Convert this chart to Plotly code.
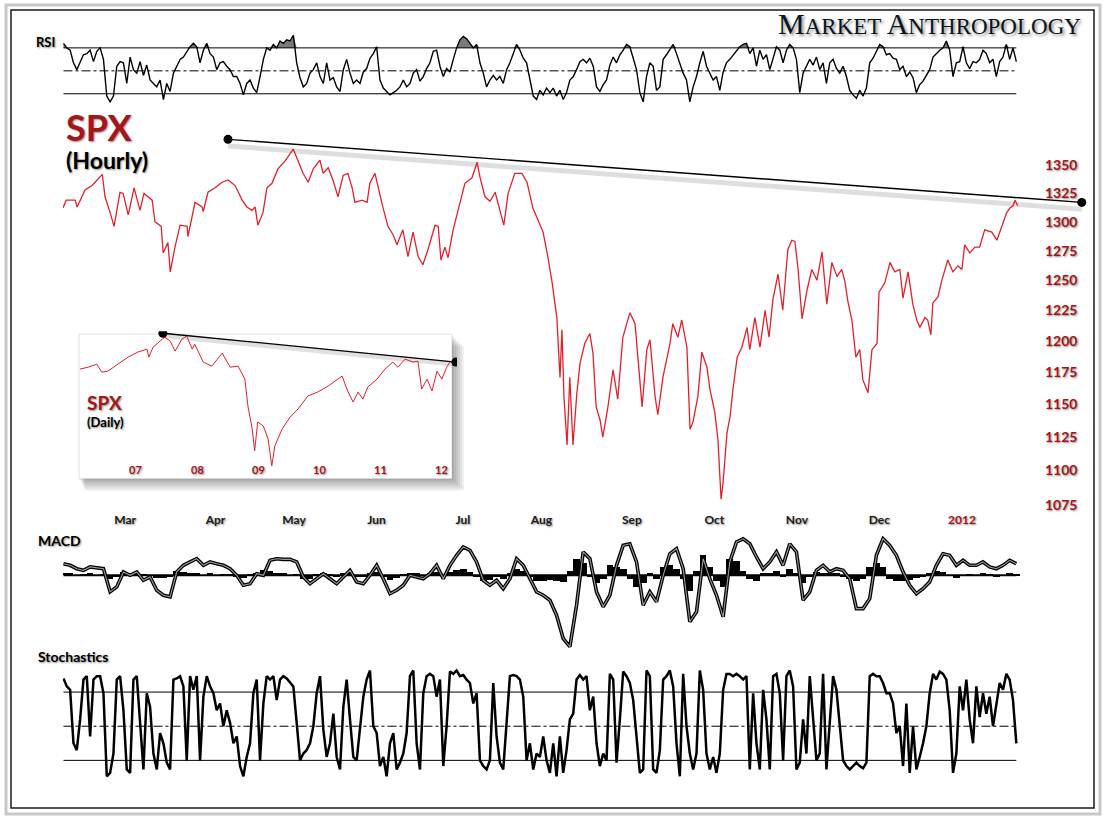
import plotly.graph_objects as go

W, H = 1108, 822

# ---- SPX hourly (x = trading days since 1 Feb 2011) ----
spx_t = [3.2, 4.0, 6.3, 6.8, 8.8, 10.6, 13.2, 13.9, 15.2, 16.2, 17.7, 18.5, 19.8, 21.3, 22.8, 23.8, 25.9, 26.6,
         28.2, 28.7, 29.9, 30.5, 31.7, 33.0, 34.8, 35.0, 36.8, 38.6, 38.9, 40.1, 41.9, 43.7, 45.2, 47.0, 48.8, 50.0,
         51.3, 52.1, 52.8, 54.1, 55.1, 56.4, 57.9, 59.7, 61.8, 63.0, 64.3, 65.6, 66.9, 68.6, 69.4, 70.7, 71.9, 73.2,
         74.5, 75.7, 76.8, 77.5, 79.3, 80.6, 81.3, 82.6, 83.4, 84.6, 85.9, 87.2, 88.2, 89.7, 91.0, 92.3, 93.6, 94.8,
         96.1, 97.9, 98.7, 99.4, 100.4, 101.2, 102.5, 104.3, 105.5, 107.3, 108.6, 109.3, 110.6, 111.9, 113.2, 114.4,
         115.4, 116.5, 118.2, 120.0, 121.3, 122.8, 124.1, 125.4, 126.6, 127.7, 128.9, 129.7, 130.2, 130.7, 131.5,
         132.2, 133.0, 134.0, 134.8, 136.0, 137.3, 138.1, 138.9, 139.9, 140.6, 141.9, 143.2, 144.4, 145.7, 147.5,
         148.8, 150.0, 150.6, 151.8, 152.6, 153.9, 154.6, 155.9, 157.7, 158.4, 159.7, 160.7, 162.0, 162.8, 163.5,
         164.8, 165.8, 167.1, 167.9, 169.1, 169.9, 170.7, 171.2, 172.2, 173.0, 173.7, 174.8, 176.0, 177.3, 178.0,
         179.3, 180.6, 181.9, 182.9, 183.9, 185.2, 186.4, 187.7, 188.7, 189.5, 190.3, 191.3, 192.6, 193.8, 195.1,
         196.4, 197.6, 198.9, 200.2, 201.4, 202.2, 203.0, 204.0, 205.0, 206.0, 206.8, 208.1, 209.1, 210.4, 210.9,
         212.4, 213.7, 214.9, 216.2, 217.0, 218.3, 219.5, 220.5, 221.3, 222.6, 223.3, 224.1, 224.6, 225.9, 226.9,
         228.4, 229.7, 231.0, 232.0, 232.7, 234.0, 235.3, 236.5, 237.8, 239.6, 240.9, 242.2, 243.4, 244.2, 245.0,
         245.5, 246.2]
spx = [1312, 1319, 1319, 1313, 1328, 1332, 1342, 1322, 1308, 1296, 1326, 1325, 1306, 1330, 1310, 1325, 1319, 1300,
       1296, 1273, 1282, 1257, 1278, 1297, 1296, 1287, 1317, 1313, 1309, 1326, 1330, 1335, 1337, 1332, 1319, 1313,
       1310, 1313, 1297, 1308, 1330, 1334, 1347, 1354, 1365, 1355, 1343, 1335, 1347, 1355, 1343, 1348, 1337, 1322,
       1341, 1343, 1330, 1317, 1319, 1317, 1334, 1343, 1330, 1313, 1296, 1289, 1280, 1293, 1270, 1291, 1270, 1263,
       1276, 1297, 1296, 1267, 1278, 1269, 1293, 1319, 1334, 1339, 1353, 1340, 1322, 1318, 1326, 1310,
       1297, 1325, 1343, 1343, 1335, 1312, 1302, 1291, 1270, 1248, 1219, 1171, 1209, 1156, 1119,
       1171, 1119, 1159, 1182, 1198, 1206, 1190, 1148, 1138, 1125, 1148, 1177, 1154, 1203, 1223,
       1214, 1171, 1148, 1193, 1201, 1156, 1142, 1171, 1198, 1214, 1203, 1217, 1195, 1131, 1136,
       1156, 1191, 1179, 1161, 1144, 1123, 1079, 1091, 1128, 1141, 1161, 1187, 1195, 1211, 1193,
       1219, 1195, 1225, 1203, 1234, 1255, 1225, 1276, 1284, 1283, 1259, 1218, 1242, 1259, 1250,
       1274, 1230, 1265, 1253, 1259, 1249, 1232, 1217, 1187, 1193, 1169, 1159, 1193, 1198, 1240,
       1248, 1265, 1257, 1259, 1235, 1257, 1230, 1217, 1211, 1219, 1217, 1205, 1231, 1236, 1250,
       1267, 1257, 1262, 1259, 1280, 1273, 1278, 1278, 1293, 1291, 1284, 1296, 1308, 1312, 1314,
       1319, 1314]
assert len(spx_t) == len(spx)

month_ticks = [19, 42, 62, 83, 105, 125, 148, 169, 190, 211, 232]
month_text = ['Mar', 'Apr', 'May', 'Jun', 'Jul', 'Aug', 'Sep', 'Oct', 'Nov', 'Dec',
              "<span style='color:#a3161a'>2012</span>"]
price_ticks = [1075, 1100, 1125, 1150, 1175, 1200, 1225, 1250, 1275, 1300, 1325, 1350]

trend_t = [45.2, 262.5]
trend_px = [1374, 1317]

# ---- SPX daily inset ----
daily_year = [2006.08, 2006.22, 2006.36, 2006.44, 2006.54, 2006.71, 2006.87, 2007.03, 2007.18, 2007.21, 2007.28,
              2007.43, 2007.47, 2007.56, 2007.64, 2007.75, 2007.83, 2007.92, 2007.96, 2008.10, 2008.24, 2008.41,
              2008.54, 2008.67, 2008.78, 2008.83, 2008.90, 2008.94, 2008.99, 2009.08, 2009.16, 2009.22, 2009.27,
              2009.39, 2009.52, 2009.65, 2009.81, 2009.97, 2010.14, 2010.37, 2010.46, 2010.55, 2010.63, 2010.71,
              2010.79, 2010.94, 2011.07, 2011.20, 2011.28, 2011.40, 2011.53, 2011.61, 2011.67, 2011.76, 2011.84,
              2011.92, 2012.00, 2012.08, 2012.13]
daily_spx = [1258, 1274, 1300, 1233, 1241, 1300, 1362, 1408, 1436, 1362, 1455,
             1535, 1555, 1514, 1417, 1535, 1565, 1436, 1484, 1318, 1283, 1398,
             1274, 1283, 1177, 985, 846, 731, 886, 863, 792, 662, 756,
             846, 915, 966, 1052, 1080, 1124, 1201, 1088, 1011, 1080, 1031,
             1117, 1177, 1258, 1318, 1274, 1344, 1318, 1326, 1102, 1177, 1088,
             1241, 1177, 1274, 1318]
assert len(daily_year) == len(daily_spx)
daily_trend_year = [2007.44, 2012.23]
daily_trend_px = [1596, 1318]
year_ticks = [2007, 2008, 2009, 2010, 2011, 2012]
year_text = ['07', '08', '09', '10', '11', '12']

# ---- oscillators, sampled on a regular grid of trading days ----
osc_t0 = 3.32
fine_step = 0.848
macd_step = 1.696

rsi = [74, 70, 68, 57, 51, 58, 64, 65, 68, 58, 67, 70, 60, 28, 23, 28, 54, 58, 57, 39,
       62, 51, 48, 58, 46, 55, 42, 39, 36, 42, 25, 39, 32, 48, 54, 60, 62, 67, 71, 74,
       71, 57, 68, 74, 65, 62, 51, 57, 58, 54, 51, 45, 45, 39, 29, 39, 42, 35, 31, 45,
       60, 70, 68, 73, 70, 76, 74, 77, 76, 81, 57, 44, 36, 39, 48, 51, 57, 45, 39, 57,
       42, 44, 36, 32, 51, 60, 48, 39, 42, 39, 49, 52, 61, 65, 71, 42, 35, 32, 29, 31,
       33, 36, 42, 36, 39, 48, 51, 41, 45, 52, 57, 67, 68, 54, 45, 52, 49, 60, 70, 77,
       80, 78, 74, 70, 73, 57, 48, 36, 42, 46, 42, 45, 39, 51, 57, 65, 73, 68, 61, 57,
       42, 28, 25, 33, 29,
       35, 31, 35, 28, 33, 25, 31, 42,
       45, 51, 58, 60, 57, 61, 54, 36, 32, 38, 42, 55, 62, 57, 64, 68, 73, 71, 62, 51,
       31, 23, 45, 57, 54, 33, 36, 60, 64, 68, 73, 65, 57, 48, 42, 23, 36, 45, 57, 67,
       54, 48, 42, 45, 33, 49, 57, 60, 64, 68, 71, 73, 74, 65, 70, 54, 68, 60, 64, 51,
       61, 71, 68, 57, 68, 73, 70, 60, 31, 48, 54, 60, 55, 62, 51, 57, 39, 57, 60, 52,
       48, 54, 45, 33, 29, 26, 33, 28, 35, 57, 61, 67, 73, 71, 64, 65, 61, 60, 51, 54,
       45, 49, 44, 31, 38, 41, 46, 51, 62, 65, 68, 70, 76, 68, 45, 57, 58, 71, 57, 52,
       58, 57, 60, 68, 65, 57, 60, 45, 58, 62, 73, 60, 70, 58]

stoch = [92, 85, 82, 35, 29, 56, 91, 94, 41, 91, 94, 94, 79, 6, 9, 26, 91, 94, 64, 12,
         9, 91, 94, 50, 12, 79, 67, 26, 12, 44, 35, 18, 12, 91, 92, 94, 85, 20, 94, 82,
         94, 20, 76, 94, 85, 79, 64, 70, 50, 64, 53, 35, 41, 15, 6, 23, 35, 79, 91, 20,
         70, 94, 91, 94, 73, 91, 94, 92, 88, 85, 53, 20, 26, 29, 35, 50, 79, 94, 47, 23,
         35, 61, 23, 12, 67, 91, 56, 23, 20, 50, 76, 91, 99, 50, 44, 15, 23, 6, 35, 44,
         12, 18, 26, 44, 94, 99, 35, 12, 79, 94, 96, 94, 76, 91, 15, 50, 98, 96, 99, 94,
         95, 91, 88, 70, 79, 20, 15, 12, 20, 88, 41, 18, 12, 53, 94, 95, 94, 91, 76, 20,
         35, 12, 26,
         23, 41, 20, 9, 35, 6, 41,
         9, 29, 56, 61, 91, 95, 91, 94, 64, 76, 35, 15, 26, 20, 96, 91, 18, 56, 98, 94,
         88, 73, 41, 9, 12, 99, 94, 12, 9, 29, 91, 94, 99, 85, 35, 6, 96, 50, 26, 12,
         26, 99, 82, 26, 12, 23, 9, 26, 82, 96, 96, 94, 96, 94, 91, 94, 12, 79, 35, 12,
         82, 56, 12, 94, 96, 79, 20, 94, 99, 85, 12, 18, 56, 26, 94, 53, 20, 26, 96, 12,
         50, 94, 82, 50, 20, 15, 12, 15, 18, 15, 13, 18, 94, 96, 94, 94, 88, 79, 79, 70,
         44, 50, 15, 70, 9, 50, 12, 23, 35, 50, 79, 96, 91, 98, 96, 91, 64, 9, 26, 85,
         64, 91, 56, 35, 85, 58, 79, 61, 76, 50, 70, 88, 82, 96, 91, 73, 35]

macd = [5.8, 5.0, 3.3, 2.5, 4.2, 3.7, 3.3, -8.3, -5.8, 1.7, 0.0, 1.7, -2.5, -0.8, -7.5, -10.0, -10.8, 1.7,
        5.0, 6.7, 8.3, 5.0, 6.7, 5.8, 5.0, 3.3, 0.0, -5.0, -4.2, 0.8, 0.0, 7.5, 8.3, 8.0, 8.0, 6.7, -0.8,
        -4.2, -1.7, 0.8, -1.7, -4.2, -0.8, 2.5, -3.3, -4.2, 0.0, 5.0, -1.7, -9.2, -7.5, -5.0, 0.0, -0.8,
        -1.7, 0.8, 5.0, -1.7, 5.0, 10.0, 14.2, 12.5, 6.7, -2.5, -5.0, -2.5, -6.7, -1.7, 8.3, 5.0, -1.7, -8.3,
        -10.0, -12.5, -20.0, -31.7, -35.8, -15.0, 11.7, 8.3, -8.3, -15.8, -10.0, 5.0, 15.0, 15.8, 6.7, -15.0,
        -8.3, -13.3, 0.0, 10.8, 13.3, 3.3, -23.3, -18.3, 8.3, -1.7, -10.0, -20.8, 6.7, 16.7, 18.3, 15.8, 9.2,
        3.3, 6.7, 11.7, 5.0, 15.8, 11.7, -12.5, -8.3, 2.5, 5.0, 1.7, 3.3, 2.5, -1.7, -16.7, -16.7, -11.7,
        10.0, 18.3, 15.0, 10.0, 1.7, -5.0, -9.2, -6.7, -3.3, 5.0, 10.8, 10.0, 5.0, 7.5, 5.0, 5.0, 6.7, 4.2,
        3.3, 5.0, 7.5, 5.8]
macd_hist = [1, 0.5, 0, -0.5, 0.5, 0, -0.5, -2, -1, 1.5, 0.5, 1, -0.5, 0, -1.5, -1.5, -1, 2, 1.5, 1,
             1, 0, 0.5, 0, -0.5, -0.5, -1, -1.5, -0.5, 0.5, 2.5, 2, 1, 0.5, 0, -0.5, -2, -2, -0.5, 0.5,
             -0.5, -1, 0.5, 1, -1, -1, 0.5, 1.5, -1, -2.5, -1.5, -0.5, 1, 0.5, 0, 1, 1.5, 0, 1.5, 2.5,
             3, 1.5, -1, -3, -2.5, -1, -2, 0.5, 3, 2, -1, -3,
             -3, -2.5, -3, -3.5, 2, 8, 6, -1, -4, -2, 5, 4, 3, -2, -6, -4, 1, -2, 4, 5,
             3, -2, -8, 2, 10, 4, -3, -6, 8, 7, 2, -2, -3, 0.5, 1, 2, -1, 3, 1, -4,
             -1, 1.5, 1, 0.5, 0.5, -1, -2, -3, -2, 4, 6, 4, -2, -3, -3, -2.5, -1.5, -1, 0.5, 2,
             1.5, 0, -1.5, 0, -0.5, 0, 0.5, -0.5, -1, 0, 0.5, -0.5]
assert len(rsi) == len(stoch) and len(macd) == len(macd_hist)

rsi_t = [osc_t0 + i * fine_step for i in range(len(rsi))]
macd_t = [osc_t0 + i * macd_step for i in range(len(macd))]
span = [rsi_t[0], rsi_t[-1]]


def px(x):
    return x / W


def py(y):
    return 1 - y / H


RED = '#e3202c'
DARK_RED = '#a3161a'
SHADOW = '1px 1px 2px rgba(0,0,0,0.45)'
X_DOM = [px(63), px(1090)]
X_RANGE = [3.2, 264.6]

fig = go.Figure()

# RSI
fig.add_trace(go.Scatter(x=span, y=[70, 70], mode='lines', line=dict(color='black', width=1),
                         xaxis='x', yaxis='y', hoverinfo='skip'))
fig.add_trace(go.Scatter(x=rsi_t, y=[max(v, 70) for v in rsi], mode='lines', line=dict(width=0),
                         fill='tonexty', fillcolor='#7a7a7a', xaxis='x', yaxis='y', hoverinfo='skip'))
fig.add_trace(go.Scatter(x=span, y=[30, 30], mode='lines', line=dict(color='black', width=1),
                         xaxis='x', yaxis='y'))
fig.add_trace(go.Scatter(x=span, y=[50, 50], mode='lines', line=dict(color='black', width=1, dash='dashdot'),
                         xaxis='x', yaxis='y'))
fig.add_trace(go.Scatter(x=rsi_t, y=rsi, mode='lines', line=dict(color='black', width=1.4),
                         xaxis='x', yaxis='y'))

# SPX hourly
fig.add_trace(go.Scatter(x=trend_t, y=[v * 0.9955 for v in trend_px], mode='lines',
                         line=dict(color='rgba(0,0,0,0.13)', width=5), xaxis='x2', yaxis='y2'))
fig.add_trace(go.Scatter(x=spx_t, y=spx, mode='lines', line=dict(color=RED, width=1.3),
                         xaxis='x2', yaxis='y2'))
fig.add_trace(go.Scatter(x=trend_t, y=trend_px, mode='lines+markers', line=dict(color='black', width=1.4),
                         marker=dict(color='black', size=9), xaxis='x2', yaxis='y2'))

# MACD
fig.add_trace(go.Bar(x=macd_t, y=macd_hist, width=macd_step, marker=dict(color='black', line=dict(width=0)),
                     xaxis='x3', yaxis='y3'))
fig.add_trace(go.Scatter(x=span, y=[0, 0], mode='lines', line=dict(color='black', width=2),
                         xaxis='x3', yaxis='y3'))
fig.add_trace(go.Scatter(x=macd_t, y=macd, mode='lines', line=dict(color='black', width=3.6),
                         xaxis='x3', yaxis='y3'))
fig.add_trace(go.Scatter(x=macd_t, y=macd, mode='lines', line=dict(color='#9a9a9a', width=1.1),
                         xaxis='x3', yaxis='y3'))

# Stochastics
for lvl, dash in [(80, 'solid'), (20, 'solid'), (50, 'dashdot')]:
    fig.add_trace(go.Scatter(x=span, y=[lvl, lvl], mode='lines', line=dict(color='black', width=1, dash=dash),
                             xaxis='x4', yaxis='y4'))
fig.add_trace(go.Scatter(x=rsi_t, y=stoch, mode='lines', line=dict(color='black', width=2.5),
                         xaxis='x4', yaxis='y4'))

# Daily inset
fig.add_trace(go.Scatter(x=daily_trend_year, y=[v * 0.985 for v in daily_trend_px], mode='lines',
                         line=dict(color='rgba(0,0,0,0.12)', width=5), xaxis='x5', yaxis='y5'))
fig.add_trace(go.Scatter(x=daily_year, y=daily_spx, mode='lines', line=dict(color=RED, width=1),
                         xaxis='x5', yaxis='y5'))
fig.add_trace(go.Scatter(x=daily_trend_year, y=daily_trend_px, mode='lines+markers',
                         line=dict(color='black', width=1.3), marker=dict(color='black', size=9),
                         xaxis='x5', yaxis='y5'))

hidden = dict(visible=False)
fig.update_layout(
    width=W, height=H, margin=dict(l=0, r=0, t=0, b=0),
    paper_bgcolor='white', plot_bgcolor='rgba(0,0,0,0)',
    showlegend=False, bargap=0, hovermode=False,
    font=dict(family='Lato, sans-serif', color='black'),
    xaxis=dict(domain=X_DOM, range=X_RANGE, anchor='y', **hidden),
    yaxis=dict(domain=[py(111.25), py(25)], range=[15, 90], anchor='x', **hidden),
    xaxis2=dict(domain=X_DOM, range=X_RANGE, anchor='y2', showgrid=False, zeroline=False, showline=False,
                ticks='', tickvals=month_ticks, ticktext=month_text,
                tickfont=dict(size=12, color='#1a1a1a', weight='bold', shadow=SHADOW)),
    yaxis2=dict(domain=[py(512), py(130)], type='log', range=[3.02966, 3.14080], anchor='free',
                position=px(1044), side='right', showgrid=False, zeroline=False, showline=False, ticks='',
                tickvals=price_ticks, ticktext=[str(v) for v in price_ticks],
                tickfont=dict(size=14, color=DARK_RED, weight='bold', shadow=SHADOW)),
    xaxis3=dict(domain=X_DOM, range=X_RANGE, anchor='y3', **hidden),
    yaxis3=dict(domain=[py(656.7), py(536.7)], range=[-40, 20], anchor='x3', **hidden),
    xaxis4=dict(domain=X_DOM, range=X_RANGE, anchor='y4', **hidden),
    yaxis4=dict(domain=[py(789.6), py(666.4)], range=[-4, 104], anchor='x4', **hidden),
    xaxis5=dict(domain=[px(80), px(457)], range=[2006.085, 2012.248], anchor='y5', **hidden),
    yaxis5=dict(domain=[py(470), py(332)], type='log', range=[2.8123, 3.2089], anchor='x5', **hidden),
)

shapes = []
# inset drop shadow + box
for k in range(1, 7):
    shapes.append(dict(type='rect', xref='paper', yref='paper', layer='below',
                       x0=px(79 + k), x1=px(452 + 2 * k), y0=py(480 + 2 * k), y1=py(335 + 2 * k),
                       fillcolor='rgba(0,0,0,0.06)', line=dict(width=0)))
shapes.append(dict(type='rect', xref='paper', yref='paper', layer='below',
                   x0=px(79), x1=px(452), y0=py(480), y1=py(335),
                   fillcolor='white', line=dict(color='rgba(0,0,0,0.12)', width=1)))
# outer frame
shapes.append(dict(type='rect', xref='paper', yref='paper', x0=px(6), x1=px(1100), y0=py(816), y1=py(5),
                   line=dict(color='#c8c8c8', width=3)))
shapes.append(dict(type='rect', xref='paper', yref='paper', x0=px(11), x1=px(1094), y0=py(810), y1=py(10),
                   line=dict(color='#1a1a1a', width=1.5)))
fig.update_layout(shapes=shapes)

ann = [
    dict(text='<b>RSI</b>', x=px(34), y=py(42), size=13),
    dict(text='<b>MACD</b>', x=px(36), y=py(542), size=14),
    dict(text='<b>Stochastics</b>', x=px(36), y=py(658), size=14),
    dict(text='<b>SPX</b>', x=px(64), y=py(127), size=36, color=DARK_RED),
    dict(text='<b>(Hourly)</b>', x=px(64), y=py(160), size=23),
    dict(text='<b>SPX</b>', x=px(85), y=py(403), size=19, color=DARK_RED),
    dict(text='<b>(Daily)</b>', x=px(85), y=py(423), size=13),
]
annotations = []
for a in ann:
    annotations.append(dict(xref='paper', yref='paper', x=a['x'], y=a['y'], xanchor='left', yanchor='middle',
                            text=a['text'], showarrow=False,
                            font=dict(size=a['size'], color=a.get('color', 'black'), shadow=SHADOW)))
for yr, lab in zip(year_ticks, year_text):
    annotations.append(dict(xref='x5', yref='paper', x=yr, y=py(471), text='<b>' + lab + '</b>',
                            showarrow=False, font=dict(size=11, color=DARK_RED, shadow=SHADOW)))
annotations.append(dict(
    xref='paper', yref='paper', x=px(1083), y=py(24), xanchor='right', yanchor='middle', showarrow=False,
    text="<span style='font-size:30px'>M</span>ARKET <span style='font-size:30px'>A</span>NTHROPOLOGY",
    font=dict(family='Liberation Serif, serif', size=23, color='#0d1420', shadow='2px 2px 3px rgba(0,0,0,0.45)')))
fig.update_layout(annotations=annotations)

fig.write_html("out.html", config={'displayModeBar': False},
               post_script="document.body.style.margin='0';")
